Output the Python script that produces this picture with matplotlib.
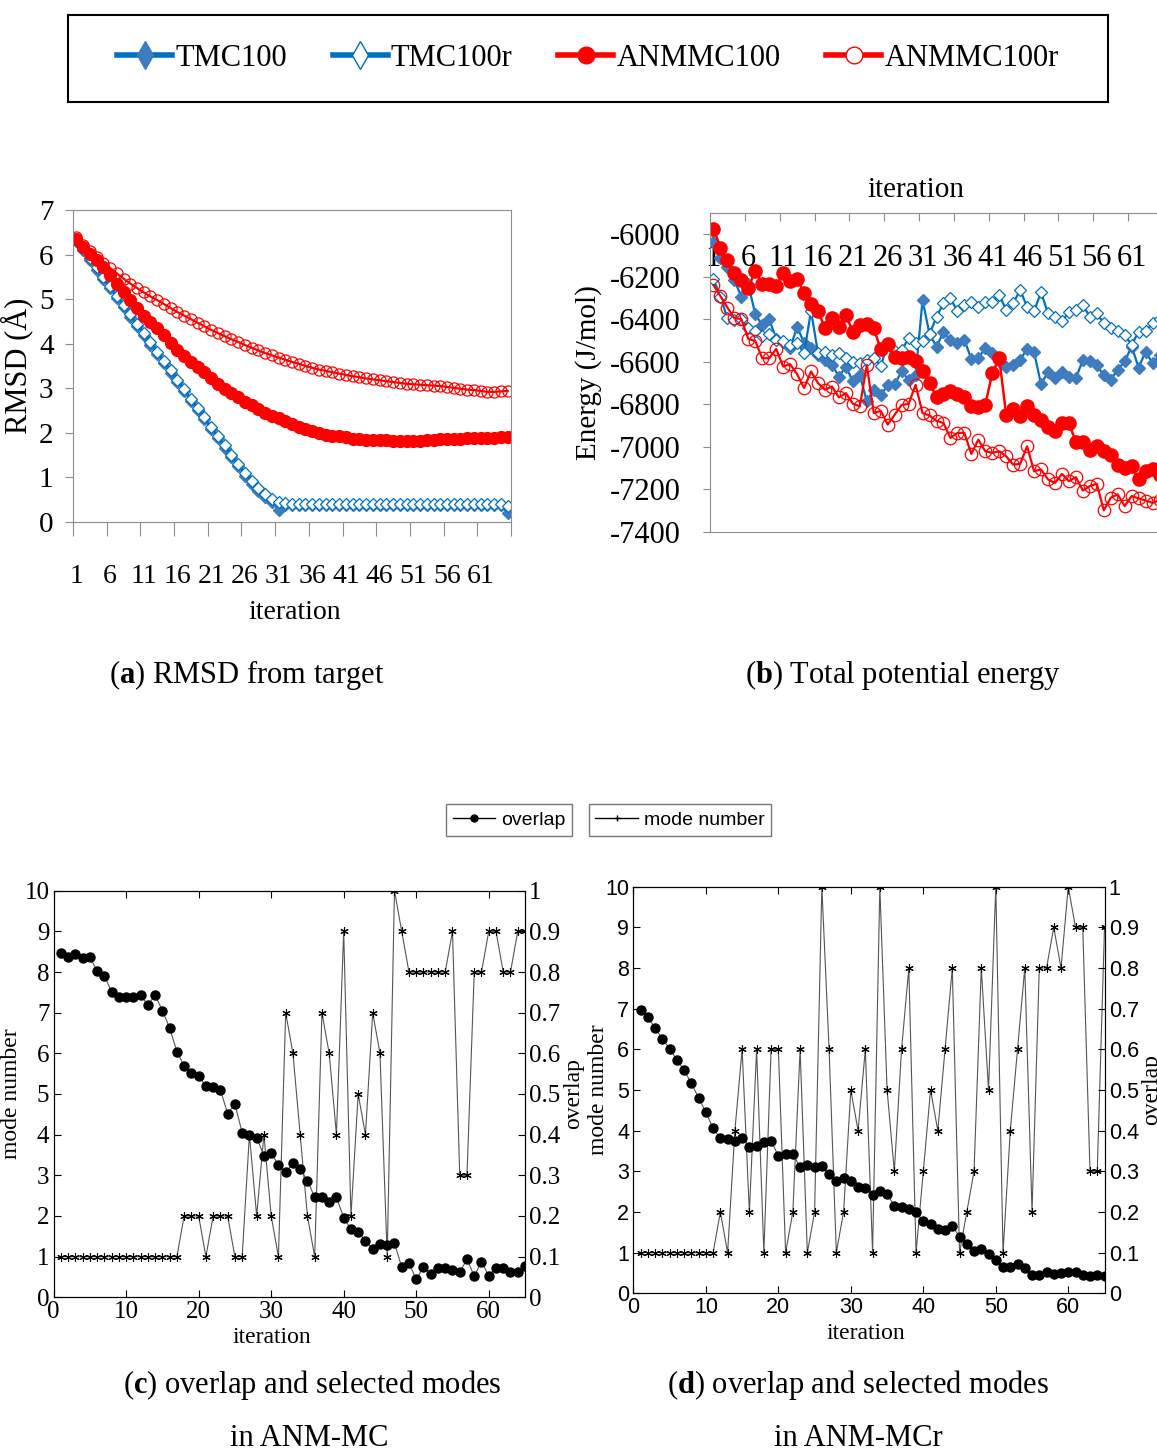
# Recreation of a four-panel figure: RMSD, energy, and overlap/mode selection
import matplotlib.pyplot as plt
from matplotlib.lines import Line2D
from matplotlib.ticker import FormatStrFormatter
import numpy as np

plt.rcParams['font.family'] = ['Liberation Serif', 'DejaVu Serif']
plt.rcParams['axes.unicode_minus'] = False
plt.rcParams['mathtext.fontset'] = 'custom'
plt.rcParams['mathtext.rm'] = 'Liberation Serif'
plt.rcParams['mathtext.bf'] = 'Liberation Serif:bold'

# ---------------- data ----------------
iters = np.arange(1, 66)
cat_ticks = list(range(1, 62, 5))
cat_labels = [str(i) for i in cat_ticks]
series_names = ["TMC100", "TMC100r", "ANMMC100", "ANMMC100r"]

# (a) RMSD from target
rmsd_tmc100 = [6.30, 6.10, 5.88, 5.66, 5.45, 5.24, 5.03, 4.82, 4.61, 4.40,
               4.19, 3.98, 3.77, 3.56, 3.35, 3.14, 2.93, 2.72, 2.51, 2.30,
               2.09, 1.88, 1.67, 1.46, 1.25, 1.04, 0.86, 0.70, 0.55, 0.45,
               0.28, 0.38, 0.38, 0.38, 0.38, 0.38, 0.38, 0.38, 0.38, 0.38,
               0.38, 0.38, 0.38, 0.38, 0.38, 0.38, 0.38, 0.38, 0.38, 0.38,
               0.38, 0.38, 0.38, 0.38, 0.38, 0.38, 0.38, 0.38, 0.38, 0.38,
               0.38, 0.38, 0.38, 0.38, 0.20]
rmsd_tmc100r = [6.32, 6.13, 5.92, 5.71, 5.50, 5.29, 5.08, 4.87, 4.66, 4.45,
                4.24, 4.03, 3.82, 3.61, 3.40, 3.19, 2.98, 2.77, 2.56, 2.35,
                2.14, 1.93, 1.72, 1.51, 1.30, 1.10, 0.92, 0.76, 0.62, 0.52,
                0.45, 0.42, 0.41, 0.40, 0.40, 0.40, 0.40, 0.40, 0.40, 0.40,
                0.40, 0.40, 0.40, 0.40, 0.40, 0.40, 0.40, 0.40, 0.40, 0.40,
                0.40, 0.40, 0.40, 0.40, 0.40, 0.40, 0.40, 0.40, 0.40, 0.40,
                0.40, 0.40, 0.40, 0.40, 0.35]
rmsd_anmmc100 = [6.35, 6.18, 6.02, 5.88, 5.72, 5.55, 5.33, 5.15, 4.98, 4.80,
                 4.62, 4.48, 4.35, 4.20, 4.02, 3.86, 3.73, 3.60, 3.48, 3.36,
                 3.22, 3.10, 2.99, 2.90, 2.80, 2.70, 2.62, 2.53, 2.45, 2.38,
                 2.33, 2.26, 2.19, 2.14, 2.08, 2.04, 2.00, 1.96, 1.94, 1.92,
                 1.90, 1.87, 1.86, 1.85, 1.84, 1.83, 1.83, 1.82, 1.82, 1.81,
                 1.82, 1.82, 1.84, 1.85, 1.86, 1.87, 1.87, 1.87, 1.88, 1.88,
                 1.88, 1.89, 1.89, 1.90, 1.90]
rmsd_anmmc100r = [6.40, 6.22, 6.08, 5.95, 5.82, 5.70, 5.58, 5.46, 5.35, 5.25,
                  5.15, 5.06, 4.98, 4.89, 4.80, 4.71, 4.63, 4.55, 4.47, 4.39,
                  4.31, 4.24, 4.17, 4.10, 4.04, 3.97, 3.91, 3.85, 3.79, 3.74,
                  3.69, 3.64, 3.59, 3.55, 3.50, 3.46, 3.42, 3.39, 3.36, 3.33,
                  3.30, 3.27, 3.25, 3.22, 3.20, 3.18, 3.16, 3.14, 3.12, 3.10,
                  3.09, 3.08, 3.07, 3.06, 3.05, 3.03, 3.01, 2.99, 2.97, 2.96,
                  2.94, 2.92, 2.92, 2.93, 2.94]

# (b) total potential energy
energy_tmc100 = [-6036, -6111, -6153, -6216, -6294, -6236, -6377, -6427, -6400, -6492,
                 -6505, -6536, -6434, -6512, -6533, -6567, -6591, -6614, -6669, -6622,
                 -6692, -6661, -6786, -6731, -6758, -6708, -6705, -6645, -6684, -6661,
                 -6309, -6470, -6528, -6461, -6497, -6512, -6497, -6586, -6580, -6536,
                 -6559, -6598, -6622, -6614, -6591, -6539, -6555, -6705, -6648, -6677,
                 -6648, -6669, -6677, -6591, -6595, -6614, -6664, -6684, -6637, -6598,
                 -6528, -6627, -6552, -6606, -6570]
energy_tmc100r = [-6210, -6295, -6395, -6405, -6400, -6440, -6455, -6480, -6470, -6495,
                  -6500, -6520, -6510, -6560, -6360, -6560, -6555, -6570, -6560, -6580,
                  -6600, -6605, -6590, -6580, -6620, -6515, -6550, -6545, -6490, -6510,
                  -6500, -6470, -6388, -6325, -6302, -6361, -6333, -6317, -6341, -6317,
                  -6317, -6286, -6356, -6325, -6262, -6341, -6361, -6273, -6372, -6388,
                  -6408, -6367, -6356, -6333, -6388, -6372, -6419, -6442, -6455, -6473,
                  -6520, -6458, -6455, -6419, -6400]
energy_anmmc100 = [-5973, -6064, -6119, -6184, -6216, -6252, -6172, -6234, -6234, -6242,
                   -6181, -6220, -6208, -6278, -6328, -6361, -6442, -6395, -6436, -6380,
                   -6458, -6427, -6423, -6442, -6541, -6517, -6575, -6580, -6575, -6598,
                   -6645, -6700, -6766, -6750, -6739, -6750, -6767, -6809, -6814, -6802,
                   -6653, -6583, -6848, -6820, -6856, -6809, -6848, -6872, -6908, -6927,
                   -6888, -6888, -6977, -6977, -7013, -6997, -7017, -7039, -7083, -7098,
                   -7091, -7153, -7114, -7106, -7130]
energy_anmmc100r = [-6239, -6291, -6345, -6395, -6398, -6492, -6502, -6583, -6583, -6539,
                    -6622, -6611, -6658, -6723, -6645, -6700, -6731, -6716, -6767, -6747,
                    -6797, -6809, -6614, -6841, -6830, -6895, -6848, -6802, -6798, -6708,
                    -6841, -6852, -6877, -6888, -6958, -6934, -6934, -7033, -6966, -7020,
                    -7028, -7020, -7044, -7083, -7080, -6997, -7114, -7106, -7153, -7169,
                    -7127, -7161, -7142, -7205, -7184, -7173, -7298, -7239, -7223, -7278,
                    -7231, -7242, -7252, -7263, -7250]

# (c) ANM-MC: selected mode number and overlap
mode_c = [1, 1, 1, 1, 1, 1, 1, 1, 1, 1, 1, 1, 1, 1, 1, 1, 1, 2, 2, 2,
          1, 2, 2, 2, 1, 1, 4, 2, 4, 2, 1, 7, 6, 4, 2, 1, 7, 6, 4, 9,
          2, 5, 4, 7, 6, 1, 10, 9, 8, 8, 8, 8, 8, 8, 9, 3, 3, 8, 8, 9,
          9, 8, 8, 9, 9]
overlap_c = [0.846, 0.836, 0.844, 0.834, 0.836, 0.803, 0.790, 0.752, 0.739, 0.739,
             0.739, 0.743, 0.719, 0.743, 0.705, 0.663, 0.604, 0.569, 0.552, 0.544,
             0.520, 0.518, 0.510, 0.452, 0.475, 0.405, 0.399, 0.393, 0.348, 0.356,
             0.325, 0.307, 0.330, 0.315, 0.287, 0.246, 0.246, 0.234, 0.246, 0.196,
             0.167, 0.160, 0.139, 0.120, 0.131, 0.129, 0.134, 0.074, 0.084, 0.044,
             0.075, 0.057, 0.073, 0.071, 0.067, 0.061, 0.094, 0.052, 0.088, 0.053,
             0.073, 0.071, 0.063, 0.061, 0.077]

# (d) ANM-MCr: selected mode number and overlap
mode_d = [1, 1, 1, 1, 1, 1, 1, 1, 1, 1, 1, 2, 1, 4, 6, 2, 6, 1, 6, 6,
          1, 2, 6, 1, 2, 10, 6, 1, 2, 5, 4, 6, 1, 10, 5, 3, 6, 8, 1, 3,
          5, 4, 6, 8, 1, 2, 3, 8, 5, 10, 1, 4, 6, 8, 2, 8, 8, 9, 8, 10,
          9, 9, 3, 3, 9]
overlap_d = [0.697, 0.679, 0.652, 0.625, 0.602, 0.574, 0.549, 0.516, 0.481, 0.445,
             0.406, 0.381, 0.379, 0.375, 0.381, 0.361, 0.362, 0.373, 0.375, 0.338,
             0.343, 0.343, 0.310, 0.316, 0.311, 0.313, 0.293, 0.275, 0.284, 0.276,
             0.262, 0.258, 0.242, 0.252, 0.244, 0.215, 0.213, 0.207, 0.199, 0.179,
             0.170, 0.159, 0.156, 0.166, 0.139, 0.121, 0.104, 0.108, 0.097, 0.082,
             0.064, 0.064, 0.071, 0.063, 0.044, 0.044, 0.052, 0.048, 0.049, 0.052,
             0.052, 0.045, 0.043, 0.045, 0.043]

# ---------------- styles ----------------
BLUE = '#0070C0'
BLUE_FILL = '#3F7CBF'
RED = '#FF0000'
GRAY = '#8C8C8C'
W, H = 1157, 1454


def box(l, t, r, b):
    # pixel box -> figure fraction
    return [l / W, 1 - b / H, (r - l) / W, (b - t) / H]


fig = plt.figure(figsize=(11.57, 14.54), dpi=100)

# ---------------- top legend ----------------
ax_leg = fig.add_axes(box(68, 15, 1108, 102))
ax_leg.set_xticks([])
ax_leg.set_yticks([])
for s in ax_leg.spines.values():
    s.set_linewidth(1.5)
handles = [
    Line2D([], [], color=BLUE, lw=4, marker='d', ms=14, mfc=BLUE_FILL, mec=BLUE_FILL),
    Line2D([], [], color=BLUE, lw=4, marker='d', ms=14, mfc='white', mec=BLUE, mew=1),
    Line2D([], [], color=RED, lw=4, marker='o', ms=12, mfc=RED, mec=RED),
    Line2D([], [], color=RED, lw=4, marker='o', ms=12, mfc='white', mec=RED, mew=1),
]
ax_leg.legend(handles, series_names, loc='center', ncol=4, frameon=False,
              fontsize=22, handlelength=1.8, handletextpad=0.1, columnspacing=1.5)

# ---------------- (a) RMSD ----------------
ax_a = fig.add_axes(box(73, 210, 511, 522))
ax_a.plot(iters, rmsd_tmc100, color=BLUE, lw=1.6, marker='D', ms=6, mfc=BLUE_FILL, mec=BLUE_FILL)
ax_a.plot(iters, rmsd_tmc100r, color=BLUE, lw=1.6, marker='D', ms=6, mfc='white', mec=BLUE, mew=0.9)
ax_a.plot(iters, rmsd_anmmc100, color=RED, lw=1.6, marker='o', ms=8.5, mfc=RED, mec=RED)
ax_a.plot(iters, rmsd_anmmc100r, color=RED, lw=1.6, marker='o', ms=8, mfc='none', mec=RED, mew=0.9)
ax_a.set_xlim(0.5, 65.5)
ax_a.set_ylim(0, 7)
ax_a.set_yticks(range(0, 8))
ax_a.set_xticks(np.arange(0.5, 66, 5))
ax_a.set_xticks(cat_ticks, labels=cat_labels, minor=True)
ax_a.tick_params(axis='x', which='major', length=10, color=GRAY, labelbottom=False)
ax_a.tick_params(axis='x', which='minor', length=0, pad=30, labelsize=20)
ax_a.tick_params(axis='y', length=6, color=GRAY, pad=8, labelsize=21)
for s in ax_a.spines.values():
    s.set_color(GRAY)
ax_a.set_ylabel("RMSD (Å)", fontsize=22, labelpad=4)
ax_a.set_xlabel("iteration", fontsize=20)
ax_a.xaxis.set_label_coords(0.505, -0.25)

# ---------------- (b) energy ----------------
ax_b = fig.add_axes(box(710, 213, 1163, 532))
ax_b.plot(iters, energy_tmc100, color=BLUE, lw=1.6, marker='D', ms=6, mfc=BLUE_FILL, mec=BLUE_FILL)
ax_b.plot(iters, energy_tmc100r, color=BLUE, lw=1.6, marker='D', ms=6, mfc='white', mec=BLUE, mew=0.9)
ax_b.plot(iters, energy_anmmc100, color=RED, lw=1.8, marker='o', ms=9.5, mfc=RED, mec=RED)
ax_b.plot(iters, energy_anmmc100r, color=RED, lw=1.6, marker='o', ms=9, mfc='none', mec=RED, mew=0.9)
ax_b.set_xlim(0.5, 65.5)
ax_b.set_ylim(-7400, -5900)
ax_b.set_yticks(range(-7400, -5999, 200))
ax_b.xaxis.set_ticks_position('top')
ax_b.set_xticks(np.arange(0.5, 66, 5))
ax_b.set_xticks(cat_ticks, labels=cat_labels, minor=True)
ax_b.tick_params(axis='x', which='major', direction='in', length=6, color=GRAY,
                 top=True, bottom=False, labeltop=False, labelbottom=False)
ax_b.tick_params(axis='x', which='minor', length=0, top=True, bottom=False,
                 labeltop=True, labelbottom=False, pad=-43, labelsize=22)
ax_b.tick_params(axis='y', length=5, color=GRAY, pad=16, labelsize=22)
for s in ax_b.spines.values():
    s.set_color(GRAY)
ax_b.set_ylabel("Energy (J/mol)", fontsize=21, labelpad=6)
ax_b.text((916 - 710) / 453, (532 - 190) / 319, "iteration", transform=ax_b.transAxes,
          ha='center', va='center', fontsize=21)

# captions for (a) and (b)
fig.text(247 / W, 1 - 675 / H, r"($\mathbf{a}$) RMSD from target", ha='center', va='center', fontsize=22)
fig.text(903 / W, 1 - 675 / H, r"($\mathbf{b}$) Total potential energy", ha='center', va='center', fontsize=22)

# ---------------- bottom legends ----------------
h_overlap = Line2D([], [], color='black', lw=1, marker='o', ms=5, mfc='black', mec='black')
h_mode = Line2D([], [], color='black', lw=1, marker='+', ms=5, mec='black')
for h, lab, cx in [(h_overlap, "overlap", 509), (h_mode, "mode number", 680)]:
    fig.legend(handles=[h], labels=[lab], loc='center', bbox_to_anchor=(cx / W, 1 - 820 / H),
               prop={'family': 'Liberation Sans', 'size': 14}, frameon=True, fancybox=False,
               edgecolor='#777777', framealpha=1, handlelength=2.2, handletextpad=0.3,
               borderpad=0.35)


def overlap_panel(rect, modes, overlaps, tick_font, tick_size, label_x, ylabel_pad):
    ax = fig.add_axes(rect)
    ax.plot(iters, modes, color='#555555', lw=0.8, marker=(6, 2, 0), ms=6, mec='black', mew=0.8)
    ax.set_xlim(0, 65)
    ax.set_ylim(0, 10)
    ax.set_xticks(range(0, 61, 10))
    ax.set_yticks(range(0, 11))
    ax.tick_params(direction='in', length=5, top=True, labelsize=tick_size, pad=3,
                   labelfontfamily=tick_font)
    ax.set_ylabel("mode number", fontsize=17, labelpad=ylabel_pad)
    ax.set_xlabel("iteration", fontsize=17)
    ax.xaxis.set_label_coords(label_x, -0.072)
    ax2 = ax.twinx()
    ax2.plot(iters, overlaps, color='#555555', lw=0.8, marker='o', ms=6.5, mfc='black', mec='black')
    ax2.set_ylim(0, 1)
    ax2.set_yticks(np.arange(0, 1.01, 0.1))
    ax2.yaxis.set_major_formatter(FormatStrFormatter('%g'))
    ax2.tick_params(direction='in', length=5, labelsize=tick_size, pad=3,
                    labelfontfamily=tick_font)
    ax2.set_ylabel("overlap", fontsize=17, labelpad=2)
    return ax, ax2


# ---------------- (c) and (d) ----------------
overlap_panel(box(53.6, 890.7, 525, 1297.3), mode_c, overlap_c, 'Liberation Serif', 18, 0.463, 2)
overlap_panel(box(633.4, 886.7, 1104.5, 1293.3), mode_d, overlap_d, 'Liberation Sans', 15.5, 0.494, -3)

fig.text(312 / W, 1 - 1385 / H, r"($\mathbf{c}$) overlap and selected modes", ha='center', va='center', fontsize=22)
fig.text(309 / W, 1 - 1438 / H, "in ANM-MC", ha='center', va='center', fontsize=22)
fig.text(858 / W, 1 - 1385 / H, r"($\mathbf{d}$) overlap and selected modes", ha='center', va='center', fontsize=22)
fig.text(858 / W, 1 - 1438 / H, "in ANM-MCr", ha='center', va='center', fontsize=22)

fig.savefig('out.png', dpi=100)
